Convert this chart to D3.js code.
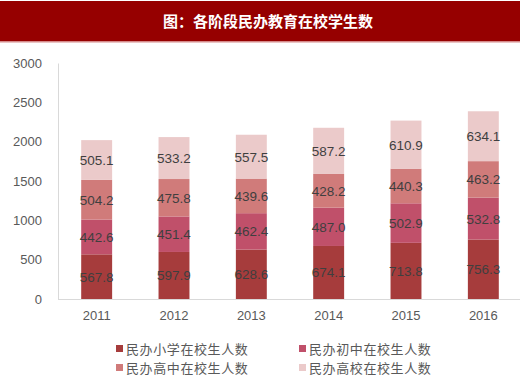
<!DOCTYPE html>
<html><head><meta charset="utf-8">
<script src="https://cdn.jsdelivr.net/npm/d3@7/dist/d3.min.js"></script>
<style>body{margin:0;background:#fff}svg{display:block}</style>
</head><body>
<script>
const years = ["2011","2012","2013","2014","2015","2016"];
const seriesNames = ["民办小学在校生人数","民办初中在校生人数","民办高中在校生人数","民办高校在校生人数"];
const primary = [567.8,597.9,628.6,674.1,713.8,756.3];
const junior = [442.6,451.4,462.4,487.0,502.9,532.8];
const senior = [504.2,475.8,439.6,428.2,440.3,463.2];
const college = [505.1,533.2,557.5,587.2,610.9,634.1];
const yTicks = [0,500,1000,1500,2000,2500,3000];
const colors = ["#a63c3c","#c0506a","#d07b7a","#ebcaca"];
const title = "图：各阶段民办教育在校学生数";

const W=520,H=384;
const svg=d3.select("body").append("svg").attr("width",W).attr("height",H);
svg.append("rect").attr("x",0).attr("y",1).attr("width",W).attr("height",40).attr("fill","#960000");
svg.append("rect").attr("x",0).attr("y",41).attr("width",W).attr("height",1.5).attr("fill","#d58a8a");
svg.append("text").attr("x",268).attr("y",27).attr("text-anchor","middle")
  .attr("font-family","'Noto Sans CJK SC'").attr("font-weight","bold").attr("font-size",15)
  .attr("fill","#fff").text(title);

const x=d3.scaleBand().domain(years).range([58,522]).paddingInner(0.6).paddingOuter(0.3);
const y=d3.scaleLinear().domain([0,3000]).range([299,63]);

const rows=years.map((yr,i)=>({year:yr,s0:primary[i],s1:junior[i],s2:senior[i],s3:college[i]}));
const stack=d3.stack().keys(["s0","s1","s2","s3"])(rows);

// axes
const ya=svg.append("g").attr("transform","translate(58,0)")
  .call(d3.axisLeft(y).tickValues(yTicks).tickFormat(d3.format("d")).tickSize(0).tickPadding(16));
ya.select(".domain").attr("stroke","#d9d9d9");
ya.selectAll("text").attr("font-family","Liberation Sans, Arial").attr("font-size",13).attr("fill","#595959");

const xa=svg.append("g").attr("transform","translate(0,299)")
  .call(d3.axisBottom(x).tickSize(0).tickPadding(12));
xa.select(".domain").attr("d","M58,0.5H520").attr("stroke","#d9d9d9");
xa.selectAll("text").attr("font-family","Liberation Sans, Arial").attr("font-size",13).attr("fill","#595959");

const g=svg.append("g");
stack.forEach((layer,k)=>{
  g.selectAll(null).data(layer).enter().append("rect")
    .attr("x",d=>x(d.data.year)).attr("width",x.bandwidth())
    .attr("y",d=>y(d[1])).attr("height",d=>y(d[0])-y(d[1]))
    .attr("fill",colors[k]);
  g.selectAll(null).data(layer).enter().append("text")
    .attr("x",d=>x(d.data.year)+x.bandwidth()/2)
    .attr("y",d=>(y(d[0])+y(d[1]))/2+5)
    .attr("text-anchor","middle")
    .attr("font-family","Liberation Sans, Arial").attr("font-size",13.5)
    .attr("fill","#3f3f3f")
    .text(d=>(d[1]-d[0]).toFixed(1));
});

// legend
const lg=svg.append("g");
const pos=[[116,349],[299,349],[116,368],[299,368]];
seriesNames.forEach((n,i)=>{
  lg.append("rect").attr("x",pos[i][0]).attr("y",pos[i][1]-4).attr("width",7).attr("height",7).attr("fill",colors[i]);
  lg.append("text").attr("x",pos[i][0]+10).attr("y",pos[i][1]+5)
    .attr("font-family","'Noto Sans CJK SC'").attr("font-size",13).attr("letter-spacing",0.6)
    .attr("fill","#595959").text(n);
});
</script>
</body></html>
